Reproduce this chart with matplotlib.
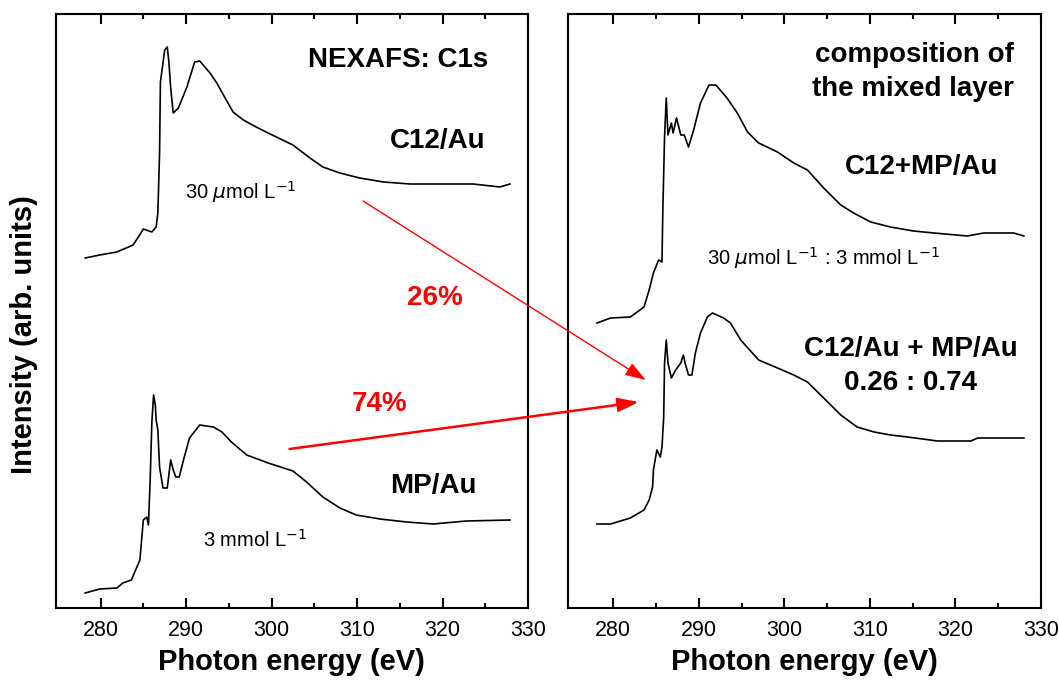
import numpy as np
import matplotlib.pyplot as plt
from matplotlib.patches import ConnectionPatch
from matplotlib.ticker import MultipleLocator, FixedLocator

plt.rcParams["font.family"] = ["Liberation Sans", "DejaVu Sans"]

# C12/Au (30 umol/L), left panel, upper trace
e_c12 = [278.2, 279.9, 281.9, 283.8, 284.5, 285.0, 286.0, 286.5, 286.7, 286.9,
         287.0, 287.3, 287.5, 287.8, 288.0, 288.2, 288.5, 289.1, 290.1, 291.0,
         291.6, 292.8, 293.6, 294.7, 295.5, 296.7, 298.2, 299.6, 302.5, 304.5,
         306.0, 308.0, 310.3, 313.1, 316.2, 319.7, 323.6, 326.7, 327.9]
i_c12 = [350, 353, 356, 363, 372, 379, 376, 381, 395, 455,
         526, 545, 558, 561, 545, 520, 495, 500, 521, 546,
         547, 535, 525, 508, 496, 488, 481, 475, 463, 450,
         441, 435, 430, 426, 424, 424, 424, 421, 424]

# MP/Au (3 mmol/L), left panel, lower trace
e_mp = [278.2, 279.9, 281.9, 282.6, 283.6, 284.0, 284.6, 284.8, 285.0, 285.4,
        285.6, 285.8, 286.0, 286.2, 286.4, 286.5, 286.7, 286.9, 287.3, 287.8,
        288.2, 288.5, 288.8, 289.2, 289.7, 290.4, 291.6, 293.2, 294.2, 295.3,
        297.1, 299.6, 302.5, 304.1, 306.0, 308.0, 309.9, 312.7, 315.8, 318.9,
        322.8, 327.9]
i_mp = [15, 19, 20, 25, 28, 36, 48, 68, 88, 91,
        83, 128, 186, 213, 203, 188, 178, 141, 120, 120,
        148, 138, 131, 131, 148, 170, 183, 181, 176, 166,
        153, 145, 137, 126, 111, 100, 93, 89, 86, 84,
        87, 88]

# C12+MP/Au (mixed layer), right panel, upper trace
e_mix = [278.1, 279.7, 282.0, 283.6, 284.2, 284.7, 285.3, 285.7, 285.8, 286.0,
         286.2, 286.4, 286.8, 287.0, 287.4, 287.9, 288.3, 288.8, 289.4, 290.2,
         291.2, 292.0, 293.3, 294.5, 295.7, 297.0, 299.2, 301.1, 302.7, 304.6,
         306.6, 308.1, 310.1, 312.4, 315.1, 317.5, 321.4, 323.3, 326.8, 328.0]
i_mix = [285, 290, 291, 301, 318, 335, 348, 346, 398, 471,
         510, 473, 485, 475, 490, 473, 473, 461, 478, 505,
         523, 523, 510, 495, 476, 465, 456, 445, 438, 420,
         403, 395, 386, 381, 377, 375, 372, 375, 375, 372]

# 0.26 C12/Au + 0.74 MP/Au, right panel, lower trace
e_sum = [278.1, 279.7, 282.0, 283.6, 284.2, 284.6, 284.7, 285.1, 285.5, 285.7,
         285.9, 286.0, 286.2, 286.4, 286.8, 287.3, 287.9, 288.2, 288.4, 288.8,
         289.2, 289.6, 290.2, 291.0, 291.6, 292.9, 293.7, 294.9, 297.0, 299.2,
         301.1, 302.7, 304.6, 306.6, 308.5, 310.5, 312.4, 314.4, 317.9, 321.8,
         322.6, 328.0]
i_sum = [84, 84, 90, 98, 108, 121, 138, 158, 151, 161,
         191, 245, 268, 245, 230, 238, 245, 253, 245, 233,
         233, 255, 275, 291, 295, 290, 285, 268, 248, 240,
         233, 226, 210, 193, 181, 176, 173, 171, 167, 167,
         170, 170]

minor_ticks = [285, 295, 305, 315, 325]

W, H = 1059, 686
fig = plt.figure(figsize=(W / 100, H / 100), dpi=100)
ax1 = fig.add_axes([55.7 / W, 78 / H, 472.3 / W, 594 / H])
ax2 = fig.add_axes([568.3 / W, 78 / H, 472.7 / W, 594 / H])

bold = dict(fontsize=20, fontweight="bold")
for ax in (ax1, ax2):
    ax.set_xlim(274.75, 330)
    ax.set_ylim(0, 594)
    ax.set_yticks([])
    ax.tick_params(axis="y", which="both", left=False, right=False)
    ax.xaxis.set_major_locator(MultipleLocator(10))
    ax.xaxis.set_minor_locator(FixedLocator(minor_ticks))
    ax.tick_params(axis="x", which="both", direction="in", top=True,
                   width=1.5, labelsize=15.5, pad=9)
    ax.tick_params(axis="x", which="major", length=7)
    ax.tick_params(axis="x", which="minor", length=3.5)
    for s in ax.spines.values():
        s.set_linewidth(1.5)
    ax.set_xlabel("Photon energy (eV)", fontsize=21, fontweight="bold")
    ax.xaxis.set_label_coords(0.5, -0.068)

ax1.set_ylabel("Intensity (arb. units)", fontsize=21, fontweight="bold")
ax1.yaxis.set_label_coords(-0.037, 0.46)

ax1.plot(e_c12, i_c12, color="k", lw=1.2)
ax1.plot(e_mp, i_mp, color="k", lw=1.2)
ax2.plot(e_mix, i_mix, color="k", lw=1.2)
ax2.plot(e_sum, i_sum, color="k", lw=1.2)

ax1.text(325.3, 548, "NEXAFS: C1s", ha="right", va="center", **bold)
ax1.text(325.0, 467, "C12/Au", ha="right", va="center", **bold)
ax1.text(289.9, 409, r"30 $\mu$mol L$^{-1}$", ha="left", va="baseline", fontsize=14.5)
ax1.text(324.0, 122, "MP/Au", ha="right", va="center", **bold)
ax1.text(292.0, 61, r"3 mmol L$^{-1}$", ha="left", va="baseline", fontsize=14.5)
ax1.text(319.1, 310, "26%", ha="center", va="center", color="red", **bold)
ax1.text(312.6, 204, "74%", ha="center", va="center", color="red", **bold)

ax2.text(326.8, 536, "composition of\nthe mixed layer", ha="right", va="center",
         multialignment="right", linespacing=1.35, **bold)
ax2.text(325.0, 441, "C12+MP/Au", ha="right", va="center", **bold)
ax2.text(291.0, 343, r"30 $\mu$mol L$^{-1}$ : 3 mmol L$^{-1}$", ha="left",
         va="baseline", fontsize=14.5)
ax2.text(314.8, 242, "C12/Au + MP/Au\n0.26 : 0.74", ha="center", va="center",
         multialignment="center", linespacing=1.4, **bold)

# red arrows going from the single layers to the summed spectrum
arr1 = ConnectionPatch(xyA=(310.7, 407), coordsA=ax1.transData,
                       xyB=(283.8, 228), coordsB=ax2.transData,
                       arrowstyle="-|>,head_length=0.9,head_width=0.3",
                       mutation_scale=14, color="red", lw=1.0)
arr2 = ConnectionPatch(xyA=(302.1, 159), coordsA=ax1.transData,
                       xyB=(283.0, 206), coordsB=ax2.transData,
                       arrowstyle="-|>,head_length=0.9,head_width=0.3",
                       mutation_scale=14, color="red", lw=1.8)
fig.add_artist(arr1)
fig.add_artist(arr2)

fig.savefig("out.png", dpi=100)
